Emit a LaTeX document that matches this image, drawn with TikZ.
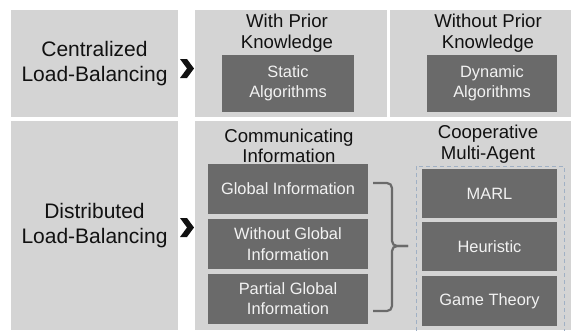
\documentclass[tikz,border=0pt]{standalone}
\usepackage{fontspec}
\setmainfont{Liberation Sans}
\usepackage{xcolor}
\usepackage{tikz}
\usetikzlibrary{arrows.meta, calc}
\definecolor{panelgray}{RGB}{212,212,212}
\definecolor{boxgray}{RGB}{106,106,106}
\definecolor{inkblack}{RGB}{17,17,17}
\definecolor{groupblue}{RGB}{160,176,196}

\begin{document}
\begin{tikzpicture}[x=1pt, y=-1pt,
  panel/.style={rectangle, fill=panelgray, inner sep=0pt, outer sep=0pt, text=inkblack, align=center, font=\fontsize{21}{25}\selectfont},
  heading/.style={align=center, inner sep=0pt, text=inkblack, font=\fontsize{18.6}{20.5}\selectfont},
  algbox/.style={rectangle, fill=boxgray, inner sep=0pt, outer sep=0pt, text=white!95!black, align=center, font=\fontsize{16.4}{20.5}\selectfont},
  bracket/.style={boxgray, line width=2.2pt, rounded corners=5pt},
  agentgroup/.style={groupblue, line width=0.9pt, dash pattern=on 4pt off 3pt}]
\useasboundingbox (0,0) rectangle (571,330);
\node[panel, minimum width=167pt, minimum height=107pt] (Cb) at (94.5,63.5) {Centralized\\Load-Balancing};
\node[panel, minimum width=192pt, minimum height=107pt] (Wb) at (291,63.5) {};
\node[panel, minimum width=181pt, minimum height=107pt] (Nb) at (480.5,63.5) {};
\node[panel, minimum width=167pt, minimum height=209pt] (Db) at (94.5,225.5) {Distributed\\Load-Balancing};
\node[panel, minimum width=376pt, minimum height=209pt] (Eb) at (383,225.5) {};
\fill[inkblack] (180,59) -- (187,59) -- (194,68.5) -- (187,78) -- (180,78) -- (187,68.5) -- cycle;
\fill[inkblack] (180,218) -- (187,218) -- (194,227.5) -- (187,237) -- (180,237) -- (187,227.5) -- cycle;
\node[heading] (Wpk) at (287,33) {With Prior\\Knowledge};
\node[heading] (Npk) at (488,33) {Without Prior\\Knowledge};
\node[algbox, minimum width=132pt, minimum height=57pt] (Sa) at (288,83.5) {Static\\Algorithms};
\node[algbox, minimum width=130pt, minimum height=57pt] (Da) at (492,83.5) {Dynamic\\Algorithms};
\node[heading] (Ci) at (289,146) {Communicating\\Information};
\node[heading] (Cm) at (488,144) {Cooperative\\Multi-Agent};
\node[algbox, minimum width=160pt, minimum height=50pt] (Gi) at (288,189) {Global Information};
\node[algbox, minimum width=160pt, minimum height=50pt] (Wg) at (288,244) {Without Global\\Information};
\node[algbox, minimum width=160pt, minimum height=50pt] (Pg) at (288,298.5) {Partial Global\\Information};
\draw[agentgroup] (416,331) |- (564,166) -- (564,331);
\node[algbox, minimum width=135pt, minimum height=49pt] (Ml) at (489.5,193.5) {MARL};
\node[algbox, minimum width=135pt, minimum height=49pt] (Hu) at (489.5,246.5) {Heuristic};
\node[algbox, minimum width=135pt, minimum height=50pt] (Gt) at (489.5,301) {Game Theory};
\coordinate (Bt) at (373,183);
\coordinate (Bb) at (373,311);
\coordinate (Bp) at (408,246);
\draw[bracket] (Bt) -- (392,183) -- (392,246) -- (Bp);
\draw[bracket] (Bb) -- (392,311) -- (392,246) -- (Bp);
\end{tikzpicture}
\end{document}
